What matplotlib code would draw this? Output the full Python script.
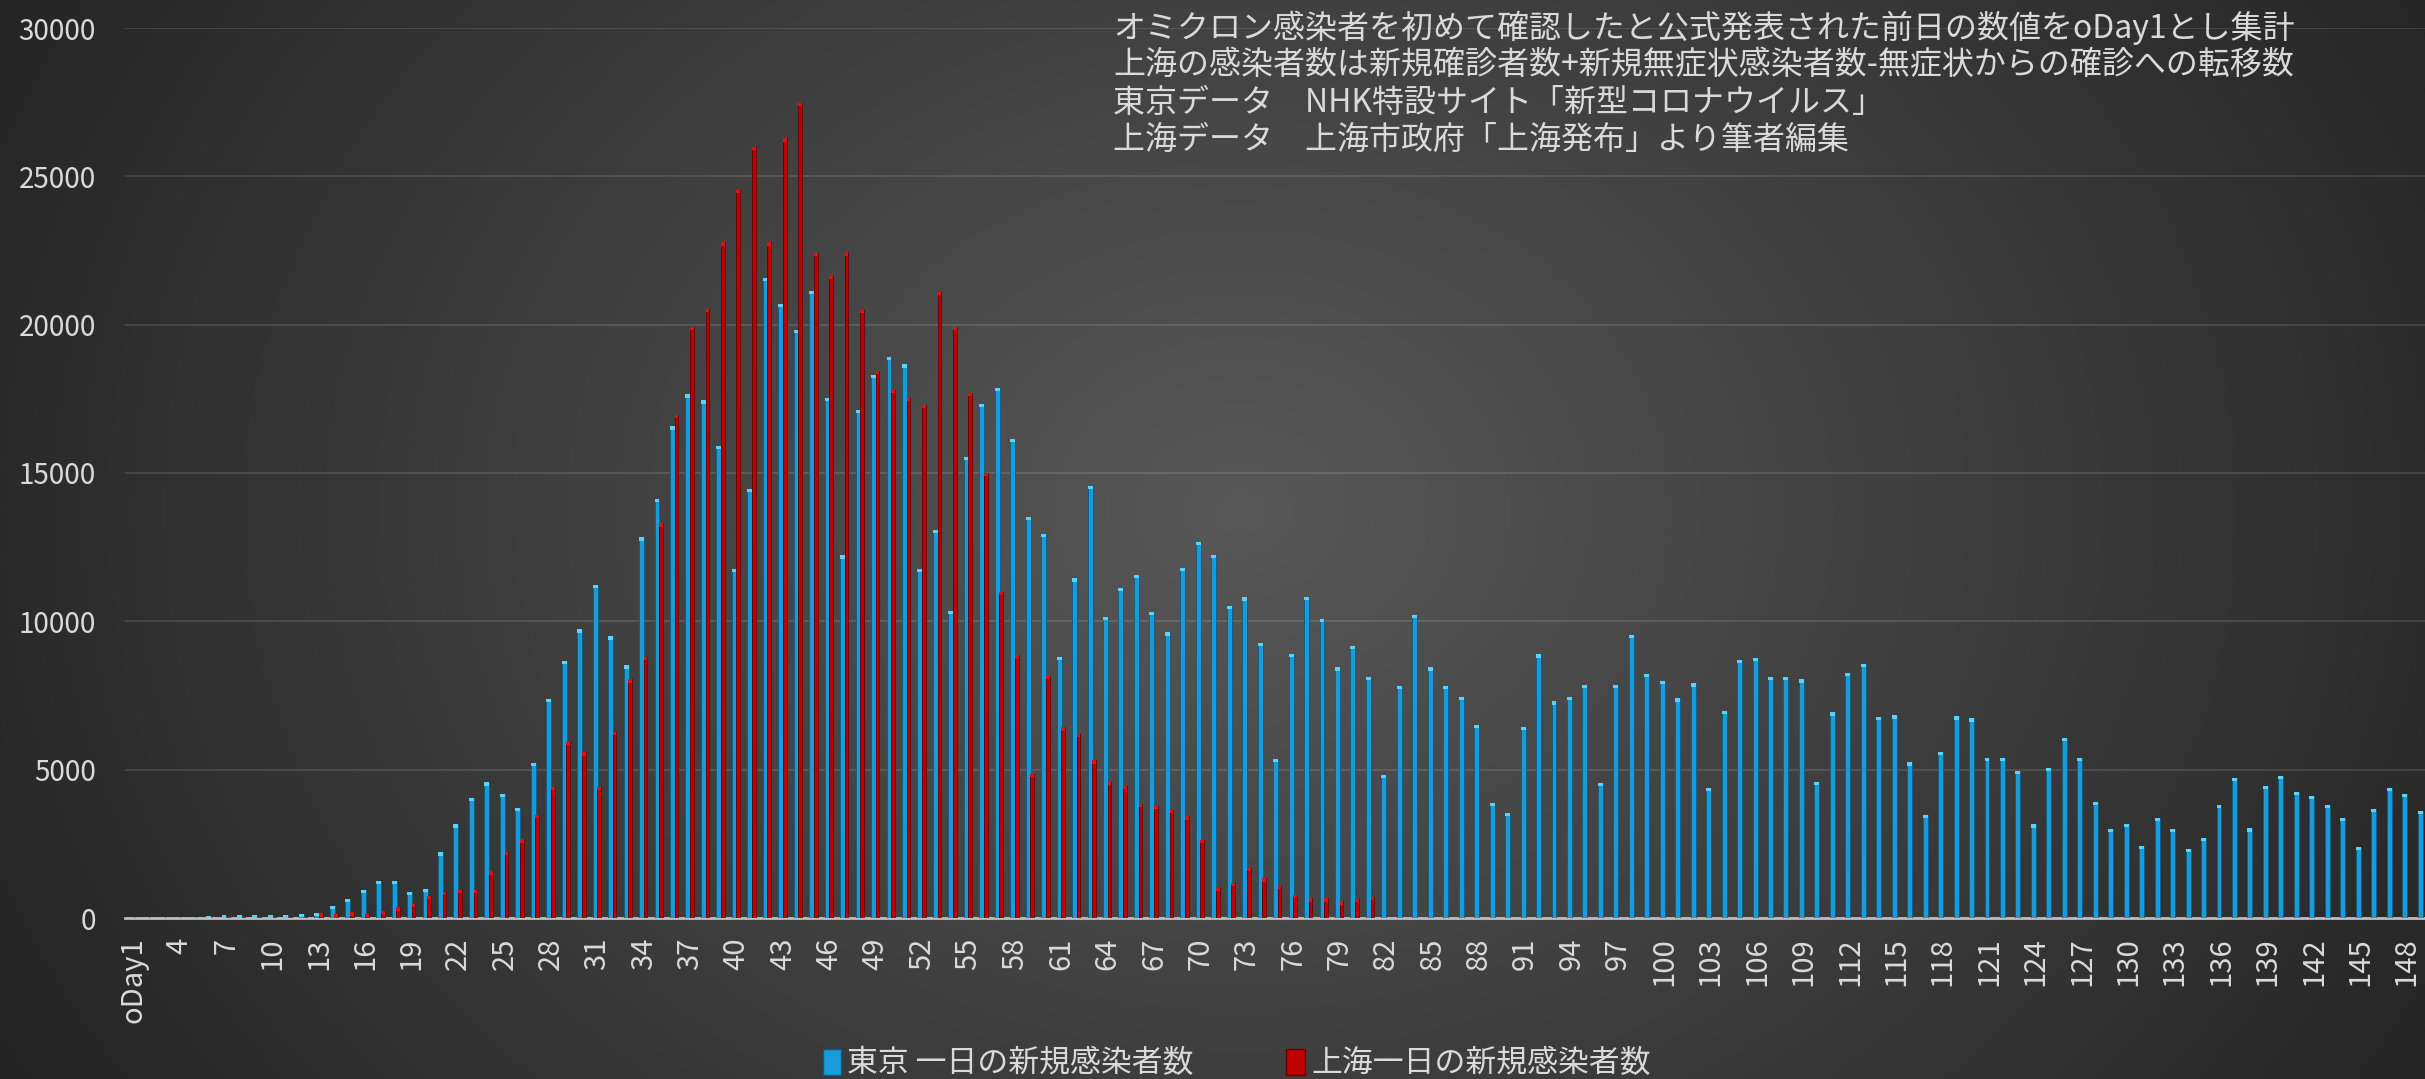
import numpy as np
import matplotlib
matplotlib.use("Agg")
import matplotlib.pyplot as plt
from matplotlib.patches import Patch

plt.rcParams['font.family'] = ['Noto Sans CJK JP', 'DejaVu Sans']

# Tokyo: daily new cases, oDay1 .. oDay149
tokyo = [50, 50, 50, 50, 50, 55, 95, 95, 100, 100, 105, 135,
         180, 415, 650, 940, 1240, 1240, 890, 975, 2210, 3160, 4060, 4570,
         4180, 3715, 5220, 7380, 8660, 9730, 11240, 9490, 8520, 12830, 14120, 16570,
         17650, 17450, 15920, 11770, 14460, 21580, 20700, 19820, 21130, 17540, 12220, 17130,
         18310, 18920, 18660, 11770, 13080, 10350, 15540, 17340, 17880, 16140, 13530, 12950,
         8800, 11450, 14570, 10160, 11120, 11570, 10310, 9630, 11800, 12690, 12250, 10520,
         10810, 9280, 5370, 8910, 10830, 10080, 8450, 9170, 8140, 4830, 7830, 10230,
         8450, 7830, 7450, 6520, 3870, 3540, 6440, 8890, 7300, 7450, 7870, 4550,
         7870, 9540, 8240, 7990, 7400, 7910, 4390, 6990, 8690, 8780, 8130, 8120,
         8040, 4580, 6930, 8270, 8560, 6790, 6830, 5250, 3480, 5600, 6800, 6730,
         5400, 5400, 4960, 3160, 5070, 6070, 5400, 3910, 3000, 3170, 2430, 3370,
         3010, 2330, 2710, 3820, 4730, 3020, 4460, 4780, 4240, 4120, 3820, 3370,
         2390, 3670, 4380, 4190, 3600]

# Shanghai: daily new infections, oDay1 .. oDay81
shanghai = [0, 0, 0, 0, 0, 0, 25, 25, 25, 30, 30, 50,
            160, 120, 190, 135, 240, 355, 480, 735, 870, 960, 955, 1575,
            2225, 2650, 3480, 4430, 5930, 5580, 4420, 6270, 8040, 8810, 13300, 16960,
            19920, 20530, 22770, 24550, 26000, 22770, 26280, 27480, 22420, 21650, 22440, 20490,
            18440, 17800, 17540, 17300, 21110, 19930, 17710, 15000, 11000, 8850, 4860, 8170,
            6430, 6200, 5310, 4590, 4460, 3840, 3780, 3640, 3430, 2640, 1030, 1180,
            1690, 1340, 1090, 780, 660, 660, 560, 640, 720]

days = np.arange(1, len(tokyo) + 1)
days_sh = np.arange(1, len(shanghai) + 1)
tick_days = days[::3]
tick_labels = ['oDay1'] + [str(d) for d in tick_days[1:]]

notes = ['オミクロン感染者を初めて確認したと公式発表された前日の数値をoDay1とし集計',
         '上海の感染者数は新規確診者数+新規無症状感染者数-無症状からの確診への転移数',
         '東京データ　NHK特設サイト「新型コロナウイルス」',
         '上海データ　上海市政府「上海発布」より筆者編集']
legend_labels = ['東京 一日の新規感染者数', '上海一日の新規感染者数']

blue = '#189bd8'
blue_cap = '#5fd0f7'
red = '#c00000'
red_cap = '#e31010'
text_col = '#dadada'

W, H = 2425, 1079
fig = plt.figure(figsize=(W / 100, H / 100), dpi=100)

# dark radial background
bg = fig.add_axes([0, 0, 1, 1], zorder=-10)
yy, xx = np.mgrid[0:H, 0:W]
r = np.sqrt(((xx - 1240) / 1240.0) ** 2 + ((yy - 510) / 1000.0) ** 2)
v = np.clip(88 - 46 * r, 35, 88) / 255.0
bg.imshow(np.dstack([v, v, v]), aspect='auto', extent=[0, 1, 0, 1])
bg.set_axis_off()

ax = fig.add_axes([125 / W, 1 - 918 / H, 1 - 125 / W, (918 - 28) / H])
ax.set_facecolor('none')

tk = np.array(tokyo, dtype=float)
sh = np.array(shanghai, dtype=float)
cap = 110.0

ax.bar(days - 0.14, tk, width=0.32, color=blue, edgecolor='#0c5c82',
       linewidth=0.6, zorder=2)
ax.bar(days - 0.14, np.minimum(tk, cap), bottom=np.maximum(tk - cap, 0), width=0.32,
       color=blue_cap, linewidth=0, zorder=2.5)
ax.bar(days_sh + 0.12, sh, width=0.24, color=red, edgecolor='#650000',
       linewidth=0.6, zorder=3)
ax.bar(days_sh + 0.12, np.minimum(sh, cap), bottom=np.maximum(sh - cap, 0), width=0.24,
       color=red_cap, linewidth=0, zorder=3.5)

ax.set_xlim(0.46, 149.18)
ax.set_ylim(0, 30000)
ax.set_yticks(np.arange(0, 30001, 5000))
ax.set_yticklabels([str(t) for t in range(0, 30001, 5000)])
ax.set_xticks(tick_days)
ax.set_xticklabels(tick_labels, rotation=90, va='top', ha='center')
ax.tick_params(axis='both', length=0, labelsize=20, colors=text_col)
ax.tick_params(axis='x', labelsize=21, pad=14)
ax.tick_params(axis='y', pad=21)
ax.yaxis.grid(True, color='#ffffff', alpha=0.13, linewidth=1.3, zorder=0)
ax.set_axisbelow(True)
for s in ['top', 'right', 'left']:
    ax.spines[s].set_visible(False)
ax.spines['bottom'].set_color('#bdbdbd')
ax.spines['bottom'].set_linewidth(2)
ax.spines['bottom'].set_zorder(1.5)

for i, line in enumerate(notes):
    fig.text(1113 / W, 1 - (28 + 37.3 * i) / H, line, fontsize=23, color=text_col,
             ha='left', va='center')

handles = [Patch(facecolor=blue, edgecolor='#0c5c82'),
           Patch(facecolor=red, edgecolor='#650000')]
fig.legend(handles, legend_labels, loc='center', bbox_to_anchor=(0.51, 1 - 1064 / H),
           ncol=2, frameon=False, fontsize=22.2, labelcolor=text_col,
           handlelength=0.6, handleheight=0.9, handletextpad=0.2, columnspacing=3.0)

fig.savefig('out.png', dpi=100)
